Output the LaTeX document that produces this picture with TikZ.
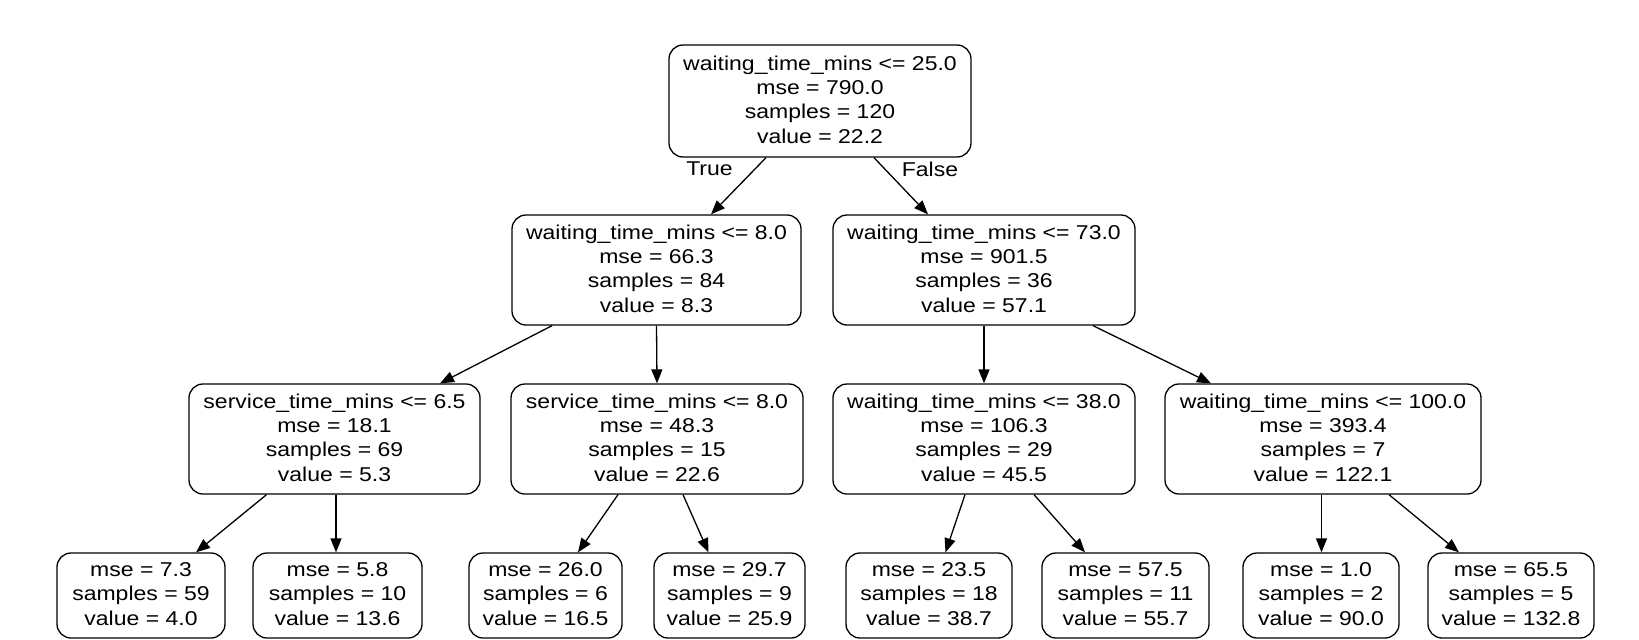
\documentclass[tikz,border=0pt]{standalone}
\usepackage{fontspec}
\setmainfont{Liberation Sans}[FakeStretch=1.15]
\usetikzlibrary{arrows.meta}
\newcommand{\lowpad}{\rule[-3pt]{0pt}{3pt}}
\begin{document}
\begin{tikzpicture}[x=1pt,y=-1pt,
  box/.style={draw=black, line width=1.3pt, rounded corners=14pt, inner sep=0pt,
    align=center, font=\fontsize{20pt}{24.3pt}\selectfont},
  inner/.style={box, minimum height=110pt},
  leaf/.style={box, minimum height=85pt},
  edge/.style={draw=black, line width=1.3pt, -{Triangle[length=14pt,width=11pt]}},
  lbl/.style={font=\fontsize{20pt}{24.3pt}\selectfont, inner sep=0pt}]
\useasboundingbox (0,0) rectangle (1639,640);
\fill[white] (0,0) rectangle (1639,640);

\node[box, minimum width=302pt, minimum height=112pt] (root) at (820,101)
  {waiting\_time\_mins <= 25.0\\mse = 790.0\\samples = 120\\value = 22.2\lowpad};

\node[inner, minimum width=289pt] (l1a) at (656.5,270)
  {waiting\_time\_mins <= 8.0\\mse = 66.3\\samples = 84\\value = 8.3\lowpad};
\node[inner, minimum width=302pt] (l1b) at (984,270)
  {waiting\_time\_mins <= 73.0\\mse = 901.5\\samples = 36\\value = 57.1\lowpad};

\node[inner, minimum width=291pt] (l2a) at (334.5,439)
  {service\_time\_mins <= 6.5\\mse = 18.1\\samples = 69\\value = 5.3\lowpad};
\node[inner, minimum width=292pt] (l2b) at (657,439)
  {service\_time\_mins <= 8.0\\mse = 48.3\\samples = 15\\value = 22.6\lowpad};
\node[inner, minimum width=302pt] (l2c) at (984,439)
  {waiting\_time\_mins <= 38.0\\mse = 106.3\\samples = 29\\value = 45.5\lowpad};
\node[inner, minimum width=316pt] (l2d) at (1323,439)
  {waiting\_time\_mins <= 100.0\\mse = 393.4\\samples = 7\\value = 122.1\lowpad};

\node[leaf, minimum width=168pt] (f1) at (141,595.5) {mse = 7.3\\samples = 59\\value = 4.0\lowpad};
\node[leaf, minimum width=169pt] (f2) at (337.5,595.5) {mse = 5.8\\samples = 10\\value = 13.6\lowpad};
\node[leaf, minimum width=153pt] (f3) at (545.5,595.5) {mse = 26.0\\samples = 6\\value = 16.5\lowpad};
\node[leaf, minimum width=151pt] (f4) at (729.5,595.5) {mse = 29.7\\samples = 9\\value = 25.9\lowpad};
\node[leaf, minimum width=166pt] (f5) at (929,595.5) {mse = 23.5\\samples = 18\\value = 38.7\lowpad};
\node[leaf, minimum width=167pt] (f6) at (1125.5,595.5) {mse = 57.5\\samples = 11\\value = 55.7\lowpad};
\node[leaf, minimum width=156pt] (f7) at (1321,595.5) {mse = 1.0\\samples = 2\\value = 90.0\lowpad};
\node[leaf, minimum width=166pt] (f8) at (1511,595.5) {mse = 65.5\\samples = 5\\value = 132.8\lowpad};

\draw[edge] ([xshift=-54pt]root.south) -- ([xshift=54.5pt]l1a.north);
\draw[edge] ([xshift=54pt]root.south) -- ([xshift=-56pt]l1b.north);
\node[lbl] (ltrue) at (709.5,169) {True};
\node[lbl] (lfalse) at (930,169) {False};

\draw[edge] ([xshift=-104.5pt]l1a.south) -- ([xshift=105.5pt]l2a.north);
\draw[edge] (l1a.south) -- (l2b.north);
\draw[edge] (l1b.south) -- (l2c.north);
\draw[edge] ([xshift=109pt]l1b.south) -- ([xshift=-112pt]l2d.north);

\draw[edge] ([xshift=-68pt]l2a.south) -- ([xshift=55pt]f1.north);
\draw[edge] ([xshift=1.5pt]l2a.south) -- ([xshift=-1.5pt]f2.north);
\draw[edge] ([xshift=-39pt]l2b.south) -- ([xshift=32.5pt]f3.north);
\draw[edge] ([xshift=26pt]l2b.south) -- ([xshift=-21pt]f4.north);
\draw[edge] ([xshift=-19pt]l2c.south) -- ([xshift=16.5pt]f5.north);
\draw[edge] ([xshift=50pt]l2c.south) -- ([xshift=-40.5pt]f6.north);
\draw[edge] ([xshift=-1.5pt]l2d.south) -- ([xshift=0.5pt]f7.north);
\draw[edge] ([xshift=66pt]l2d.south) -- ([xshift=-52pt]f8.north);
\end{tikzpicture}
\end{document}
